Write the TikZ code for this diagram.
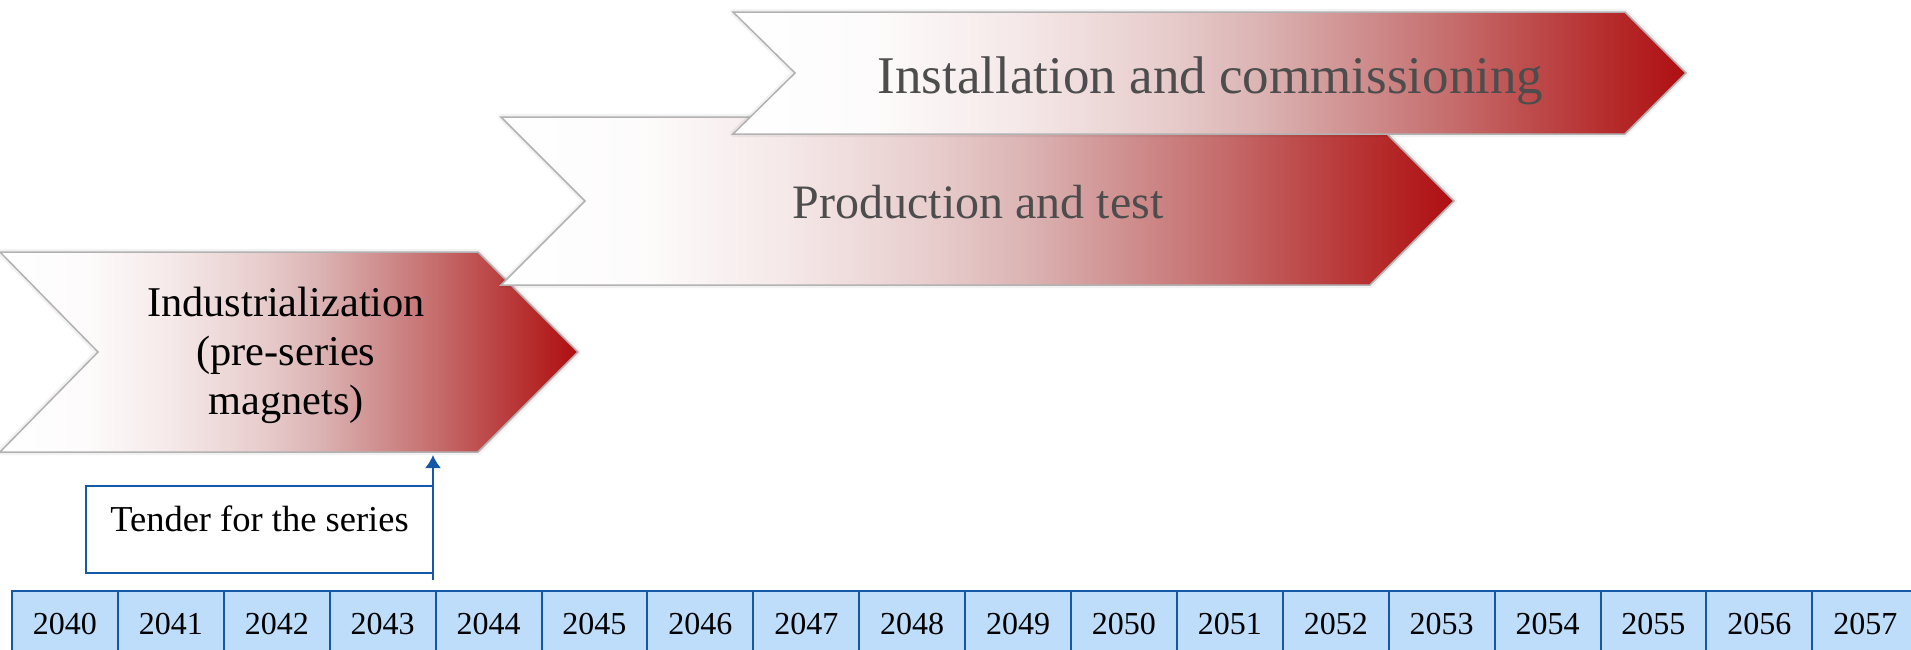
\documentclass[tikz,border=0pt]{standalone}
\usepackage{fontspec}
\setmainfont{Liberation Serif}
\usetikzlibrary{arrows.meta}
\definecolor{gA}{RGB}{253,251,251}
\definecolor{gB}{RGB}{245,232,232}
\definecolor{gC}{RGB}{232,205,205}
\definecolor{gD}{RGB}{220,180,180}
\definecolor{gE}{RGB}{208,145,145}
\definecolor{gF}{RGB}{198,110,110}
\definecolor{gG}{RGB}{188,70,70}
\definecolor{gH}{RGB}{181,40,40}
\definecolor{gI}{RGB}{175,14,18}
\definecolor{chevline}{RGB}{178,178,178}
\definecolor{textgray}{RGB}{77,77,77}
\definecolor{blueline}{RGB}{22,88,168}
\definecolor{yearblue}{RGB}{189,221,250}
\pgfdeclarehorizontalshading{chevshade}{100bp}{color(0bp)=(white); color(25bp)=(white); color(32.5bp)=(gA); color(40bp)=(gB); color(47.5bp)=(gC); color(52.5bp)=(gD); color(57.5bp)=(gE); color(62.5bp)=(gF); color(67.5bp)=(gG); color(71.5bp)=(gH); color(75bp)=(gI); color(100bp)=(gI)}
\tikzset{
  chevron/.style={shade, shading=chevshade, shading angle=0, draw=chevline, line width=0.75pt, line join=miter},
  glow/.style={draw=black, draw opacity=0.05, line width=3pt, line join=round},
  chevtext/.style={inner sep=0pt, anchor=base, text=textgray},
  tenderbox/.style={draw=blueline, line width=1pt, fill=white, anchor=north, inner xsep=0pt, inner ysep=0pt, minimum width=173.5pt, text height=22.5pt, text depth=21pt, font=\fontsize{18.25}{21}\selectfont},
  yearbox/.style={draw=blueline, fill=yearblue, line width=1pt, anchor=north west, inner sep=0pt, minimum width=52.95pt, text height=21.5pt, text depth=23pt, font=\fontsize{16}{19}\selectfont},
  tenderarrow/.style={draw=blueline, line width=1pt, -{Latex[length=6.5pt,width=8pt]}}
}
\begin{document}
\begin{tikzpicture}[x=0.5pt, y=-0.5pt]
\useasboundingbox (0,0) rectangle (1911,649);
\clip (0,0) rectangle (1911,649);
% chevron 1
\path[glow] (0,252) -- (478,252) -- (578,352) -- (478,452) -- (0,452) -- (98,352) -- cycle;
\path[chevron] (0,252) -- (478,252) -- (578,352) -- (478,452) -- (0,452) -- (98,352) -- cycle;
\node[inner sep=0pt, align=center, font=\fontsize{21.2}{24.5}\selectfont] (t1) at (286,355) {Industrialization\\(pre-series\\magnets)};
% chevron 2
\path[glow] (501,117) -- (1370,117) -- (1454,201) -- (1370,285) -- (501,285) -- (585,201) -- cycle;
\path[chevron] (501,117) -- (1370,117) -- (1454,201) -- (1370,285) -- (501,285) -- (585,201) -- cycle;
\node[chevtext, font=\fontsize{24}{28}\selectfont] (t2) at (978,218) {Production and test};
% chevron 3
\path[glow] (733,12) -- (1625,12) -- (1686,73) -- (1625,134) -- (733,134) -- (795,73) -- cycle;
\path[chevron] (733,12) -- (1625,12) -- (1686,73) -- (1625,134) -- (733,134) -- (795,73) -- cycle;
\node[chevtext, font=\fontsize{26.5}{30}\selectfont] (t3) at (1210.5,93) {Installation and commissioning};
% tender box and arrow
\node[tenderbox] (tender) at (259.5,485) {Tender for the series};
\coordinate (arrowStart) at (433,580);
\coordinate (arrowEnd) at (433,455);
\draw[tenderarrow] (arrowStart) -- (arrowEnd);
% years
\foreach \yr [count=\i from 0] in {2040,...,2057} {
  \node[yearbox] (y\yr) at ({11+\i*105.9},590) {\yr};
}
\end{tikzpicture}
\end{document}
